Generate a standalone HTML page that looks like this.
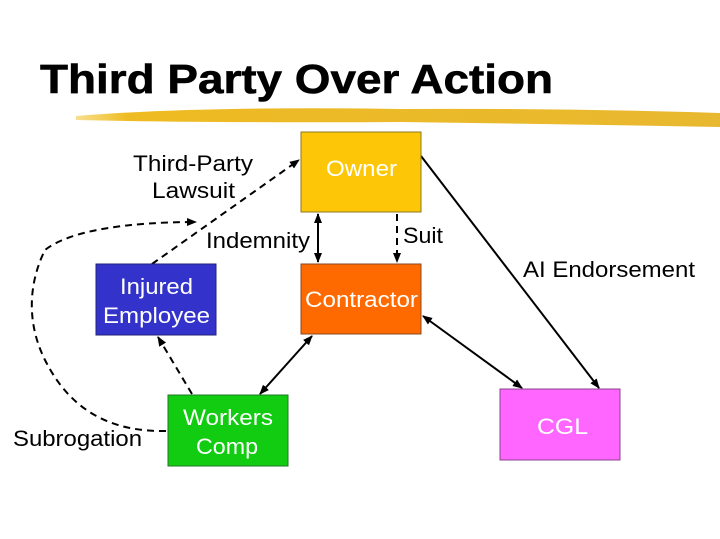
<!DOCTYPE html>
<html><head><style>
body{margin:0;background:#fff;}
svg{display:block;font-family:"Liberation Sans",Arial,sans-serif;}
</style></head><body>
<svg width="720" height="539" viewBox="0 0 720 539">
<defs>
<marker id="a" viewBox="0 0 10 10" refX="9" refY="5" markerWidth="5" markerHeight="5" orient="auto-start-reverse"><path d="M0,1 L10,5 L0,9 z" fill="#000"/></marker>
<linearGradient id="y" x1="0" x2="1"><stop offset="0" stop-color="#f0c020" stop-opacity="0.5"/><stop offset="0.08" stop-color="#eebb22"/><stop offset="1" stop-color="#e8b830"/></linearGradient>
</defs>
<text x="40" y="93" font-size="41" font-weight="bold" fill="#000" stroke="#000" stroke-width="0.6" textLength="513" lengthAdjust="spacingAndGlyphs">Third Party Over Action</text>
<path d="M76,116 Q200,106 400,109 Q560,108 720,113 L720,127 Q560,124 400,122 Q200,123 76,120 z" fill="url(#y)"/>
<g stroke="#000" stroke-width="2" fill="none">
<line x1="152" y1="264" x2="299" y2="160" stroke-dasharray="7,5" marker-end="url(#a)"/>
<line x1="318" y1="214" x2="318" y2="262" marker-start="url(#a)" marker-end="url(#a)"/>
<line x1="397" y1="214" x2="397" y2="262" stroke-dasharray="7,5" marker-end="url(#a)"/>
<line x1="421" y1="156" x2="599" y2="388" marker-end="url(#a)"/>
<line x1="423" y1="316" x2="522" y2="388" marker-start="url(#a)" marker-end="url(#a)"/>
<line x1="312" y1="336" x2="260" y2="394" marker-start="url(#a)" marker-end="url(#a)"/>
<line x1="192" y1="394" x2="158" y2="337" stroke-dasharray="7,5" marker-end="url(#a)"/>
<path d="M166,431 C110,432 70,410 45,360 C25,320 30,280 45,250 C70,230 130,222 196,222" stroke-dasharray="7,5" marker-end="url(#a)"/>
</g>
<rect x="301" y="132" width="120" height="80" fill="#fdc707" stroke="#8a7a20"/>
<rect x="301" y="264" width="120" height="70" fill="#ff6a00" stroke="#8a4a20"/>
<rect x="96" y="264" width="120" height="71" fill="#3333cc" stroke="#222277"/>
<rect x="168" y="395" width="120" height="71" fill="#11cc11" stroke="#227722"/>
<rect x="500" y="389" width="120" height="71" fill="#ff66ff" stroke="#884488"/>
<g fill="#fff" font-size="22">
<text x="326" y="176" textLength="71" lengthAdjust="spacingAndGlyphs">Owner</text>
<text x="305" y="307" textLength="113" lengthAdjust="spacingAndGlyphs">Contractor</text>
<text x="120" y="294" textLength="73" lengthAdjust="spacingAndGlyphs">Injured</text>
<text x="103" y="323" textLength="107" lengthAdjust="spacingAndGlyphs">Employee</text>
<text x="183" y="425" textLength="90" lengthAdjust="spacingAndGlyphs">Workers</text>
<text x="196" y="454" textLength="62" lengthAdjust="spacingAndGlyphs">Comp</text>
<text x="537" y="434" textLength="51" lengthAdjust="spacingAndGlyphs">CGL</text>
</g>
<g fill="#000" font-size="22">
<text x="133" y="171" textLength="120" lengthAdjust="spacingAndGlyphs">Third-Party</text>
<text x="152" y="198" textLength="83" lengthAdjust="spacingAndGlyphs">Lawsuit</text>
<text x="206" y="248" textLength="104" lengthAdjust="spacingAndGlyphs">Indemnity</text>
<text x="403" y="243" textLength="40" lengthAdjust="spacingAndGlyphs">Suit</text>
<text x="523" y="277" textLength="172" lengthAdjust="spacingAndGlyphs">AI Endorsement</text>
<text x="13" y="446" textLength="129" lengthAdjust="spacingAndGlyphs">Subrogation</text>
</g>
</svg>
</body></html>
